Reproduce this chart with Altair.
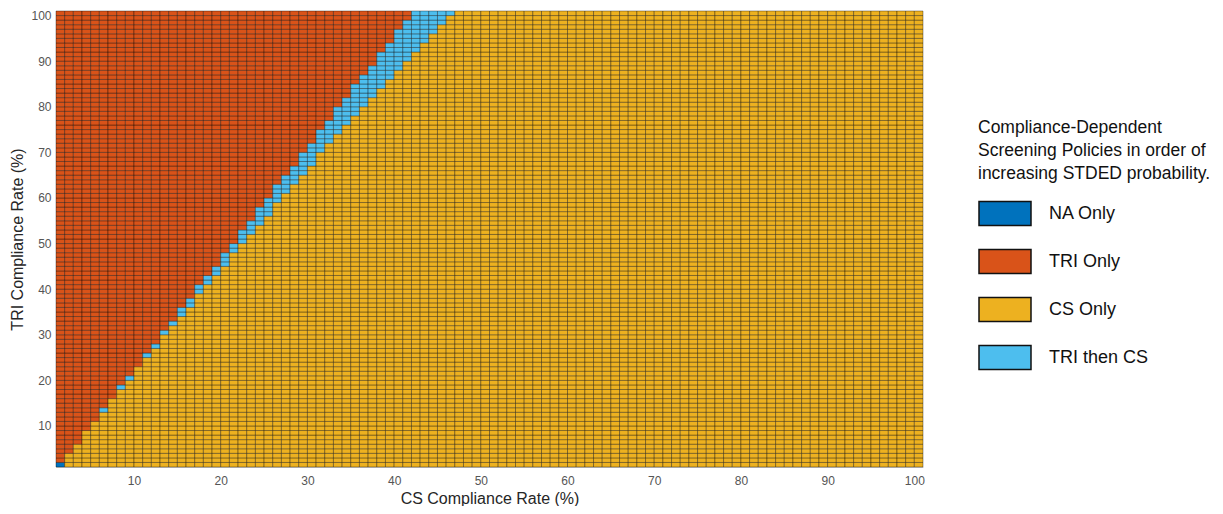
import altair as alt
import pandas as pd

# Axis grid values
cs_rates = list(range(1, 101))   # CS Compliance Rate (%)
tri_rates = list(range(1, 101))  # TRI Compliance Rate (%)

# Policy categories and colours (legend order)
categories = ["NA Only", "TRI Only", "CS Only", "TRI then CS"]
colors = ["#0072BD", "#D95319", "#EDB120", "#4DBEEE"]

# Per CS column (starting at CS = 1):
# highest TRI row that is "CS Only" (columns beyond the list are all CS Only)
cs_only_top = [0, 3, 5, 8, 10, 12, 15, 17, 19, 22, 24, 26, 29, 31, 33, 35, 38, 40, 42, 44,
               47, 49, 51, 53, 55, 58, 60, 62, 64, 66, 69, 71, 73, 75, 77, 79, 81, 83, 85, 87,
               89, 91, 93, 95, 97, 99]
# lowest TRI row that is "TRI Only" (columns beyond the list have none)
tri_only_bottom = [2, 4, 6, 9, 11, 14, 16, 19, 21, 23, 26, 28, 31, 33, 36, 38, 41, 43, 45, 48,
                   50, 53, 55, 58, 60, 63, 65, 67, 70, 72, 75, 77, 80, 82, 85, 87, 89, 92, 94, 97,
                   99]
# the single "NA Only" cell (CS, TRI)
na_only_cells = [(1, 1)]

rows = []
for i, cs in enumerate(cs_rates):
    top = cs_only_top[i] if i < len(cs_only_top) else 100
    bottom = tri_only_bottom[i] if i < len(tri_only_bottom) else 101
    for tri in tri_rates:
        if (cs, tri) in na_only_cells:
            cat = "NA Only"
        elif tri <= top:
            cat = "CS Only"
        elif tri >= bottom:
            cat = "TRI Only"
        else:
            cat = "TRI then CS"
        rows.append({"cs": cs, "cs2": cs + 1, "tri": tri, "tri2": tri + 1, "policy": cat})
df = pd.DataFrame(rows)

tick_vals = [10, 20, 30, 40, 50, 60, 70, 80, 90, 100]
FONT = "Liberation Sans"

legend = alt.Legend(
    title=["Compliance-Dependent", "Screening Policies in order of", "increasing STDED probability."],
    orient="none", legendX=922, legendY=108,
    titleFont=FONT, titleFontSize=17.5, titleFontWeight="normal", titleColor="#111111",
    titleLineHeight=23, titlePadding=4, titleLimit=500, titleAnchor="start",
    labelFont=FONT, labelFontSize=18, labelColor="#111111", labelOffset=17, labelLimit=300,
    symbolType="M-1,-0.46L1,-0.46L1,0.46L-1,0.46Z", symbolSize=2704,
    symbolStrokeColor="#111111", symbolStrokeWidth=1.5, symbolOpacity=1,
    rowPadding=6,
)

chart = alt.Chart(df).mark_rect(stroke="#000000", strokeWidth=0.5, strokeOpacity=0.7, opacity=1).encode(
    x=alt.X("cs:Q", scale=alt.Scale(domain=[1, 101], nice=False, zero=False),
            axis=alt.Axis(values=tick_vals, title="CS Compliance Rate (%)", grid=False,
                          ticks=False, labelPadding=8, domainColor="#c8c8c8",
                          labelFont=FONT, labelFontSize=12, labelColor="#555555",
                          titleFont=FONT, titleFontSize=16, titleFontWeight="normal",
                          titleColor="#262626", titlePadding=4)),
    x2="cs2:Q",
    y=alt.Y("tri:Q", scale=alt.Scale(domain=[1, 101], nice=False, zero=False),
            axis=alt.Axis(values=tick_vals, title="TRI Compliance Rate (%)", grid=False,
                          ticks=False, labelPadding=5, domainColor="#c8c8c8",
                          labelFont=FONT, labelFontSize=12, labelColor="#555555",
                          titleFont=FONT, titleFontSize=16, titleFontWeight="normal",
                          titleColor="#262626", titlePadding=5)),
    y2="tri2:Q",
    color=alt.Color("policy:N", scale=alt.Scale(domain=categories, range=colors), legend=legend),
).properties(
    width=867, height=456,
    autosize=alt.AutoSizeParams(type="none"),
    padding={"left": 48, "top": 3, "right": 292, "bottom": 39},
).configure_view(stroke=None)

chart.save("out.html", embed_options={"renderer": "svg", "actions": False})
